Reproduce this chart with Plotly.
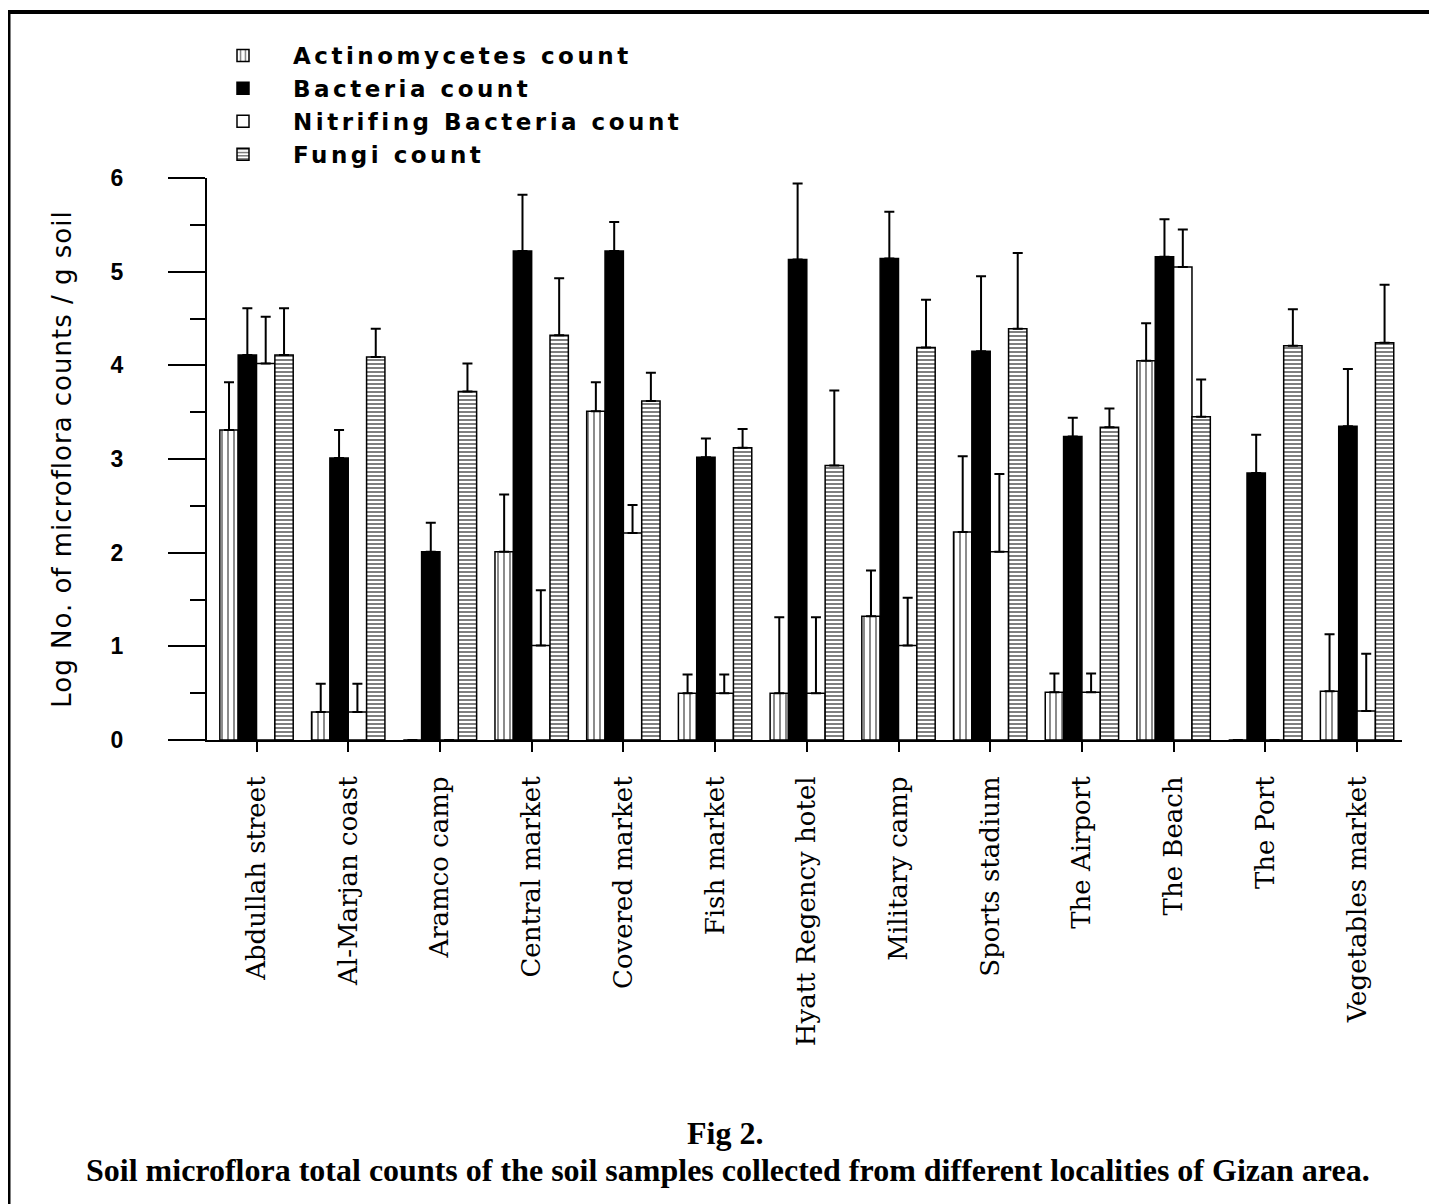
import plotly.graph_objects as go

categories = ["Abdullah street", "Al-Marjan coast", "Aramco camp", "Central market",
              "Covered market", "Fish market", "Hyatt Regency hotel", "Military camp",
              "Sports stadium", "The Airport", "The Beach", "The Port", "Vegetables market"]

actino = [3.31, 0.30, 0.0, 2.01, 3.51, 0.50, 0.50, 1.32, 2.22, 0.51, 4.05, 0.0, 0.52]
actino_err = [0.51, 0.30, 0.0, 0.61, 0.31, 0.20, 0.81, 0.49, 0.81, 0.20, 0.40, 0.0, 0.61]

bacteria = [4.11, 3.01, 2.01, 5.22, 5.22, 3.02, 5.13, 5.14, 4.15, 3.24, 5.16, 2.85, 3.35]
bacteria_err = [0.50, 0.30, 0.31, 0.60, 0.31, 0.20, 0.81, 0.50, 0.80, 0.20, 0.40, 0.41, 0.61]

nitrif = [4.02, 0.30, 0.0, 1.01, 2.21, 0.50, 0.50, 1.01, 2.01, 0.51, 5.05, 0.0, 0.31]
nitrif_err = [0.50, 0.30, 0.0, 0.59, 0.30, 0.20, 0.81, 0.51, 0.83, 0.20, 0.40, 0.0, 0.61]

fungi = [4.11, 4.09, 3.72, 4.32, 3.62, 3.12, 2.93, 4.19, 4.39, 3.34, 3.45, 4.21, 4.24]
fungi_err = [0.50, 0.30, 0.30, 0.61, 0.30, 0.20, 0.80, 0.51, 0.81, 0.20, 0.40, 0.39, 0.62]

series_names = ["Actinomycetes count", "Bacteria count", "Nitrifing Bacteria count", "Fungi count"]

series = [
    (series_names[0], actino, actino_err, dict(shape="|", size=6, solidity=0.3, fgcolor="black", bgcolor="white")),
    (series_names[1], bacteria, bacteria_err, None),
    (series_names[2], nitrif, nitrif_err, None),
    (series_names[3], fungi, fungi_err, dict(shape="-", size=4, solidity=0.5, fgcolor="black", bgcolor="white")),
]
fills = ["white", "black", "white", "white"]

fig = go.Figure()
for (name, vals, errs, pat), fc in zip(series, fills):
    marker = dict(color=fc, line=dict(color="black", width=1.5))
    if pat:
        marker["pattern"] = pat
    fig.add_trace(go.Bar(
        name='<span style="letter-spacing:3.5px">' + name + '</span>',
        x=categories, y=vals, marker=marker,
        error_y=dict(type="data", symmetric=False, array=errs, arrayminus=[0] * len(errs),
                     color="black", thickness=2, width=5),
    ))

# page is rendered with an 8px body margin; compensate
OFF = 8
PL, PR, PT, PB = 207, 1402, 178, 740   # plot area in page pixels
W, H = 1437 - OFF, 1204 - OFF
L, T = PL - OFF, PT - OFF
R = W - (PR - OFF)
B = H - (PB - OFF)
pw, ph = PR - PL, PB - PT

def px(xp):
    return (xp - PL) / pw

def py(yp):
    return (PB - yp) / ph

fig.update_layout(
    width=W, height=H,
    margin=dict(l=L, r=R, t=T, b=B),
    paper_bgcolor="white", plot_bgcolor="white",
    barmode="group", bargap=0.2, bargroupgap=0,
    showlegend=True,
    legend=dict(x=px(193), y=py(34), xanchor="left", yanchor="top",
                font=dict(family="DejaVu Sans", size=23, color="black", weight="bold"),
                itemwidth=90, bgcolor="rgba(0,0,0,0)", traceorder="normal"),
    xaxis=dict(range=[-0.54, 12.49], showline=True, linecolor="black", linewidth=2,
               ticks="outside", ticklen=10, tickwidth=2, tickcolor="black",
               tickangle=-90, ticklabelstandoff=14,
               tickfont=dict(family="DejaVu Serif", size=26, color="black"),
               showgrid=False, zeroline=False),
    yaxis=dict(range=[0, 6], showline=True, linecolor="black", linewidth=2,
               ticks="outside", ticklen=37, tickwidth=1.5, tickcolor="black",
               tickvals=[0, 1, 2, 3, 4, 5, 6], ticklabelstandoff=40,
               minor=dict(dtick=0.5, ticks="outside", ticklen=15, tickwidth=1.5, tickcolor="black"),
               tickfont=dict(family="Liberation Sans", size=23, color="black", weight="bold"),
               title=dict(text='<span style="letter-spacing:1px">Log No. of microflora counts / g soil</span>',
                          font=dict(family="DejaVu Sans", size=26, color="black"), standoff=32),
               showgrid=False, zeroline=False),
    annotations=[
        dict(text="<b>Fig 2.</b>", x=px(725), y=py(1133), xref="paper", yref="paper",
             showarrow=False, xanchor="center", yanchor="middle",
             font=dict(family="Liberation Serif", size=32, color="black")),
        dict(text="<b>Soil microflora total counts of the soil samples collected from different localities of Gizan area.</b>",
             x=px(728), y=py(1170), xref="paper", yref="paper",
             showarrow=False, xanchor="center", yanchor="middle",
             font=dict(family="Liberation Serif", size=32, color="black")),
    ],
    shapes=[
        dict(type="line", xref="paper", yref="paper", x0=px(8), x1=px(1437), y0=py(12), y1=py(12),
             line=dict(color="black", width=4)),
        dict(type="line", xref="paper", yref="paper", x0=px(9), x1=px(9), y0=py(12), y1=py(1204),
             line=dict(color="black", width=3)),
    ],
)

fig.write_html("out.html")
